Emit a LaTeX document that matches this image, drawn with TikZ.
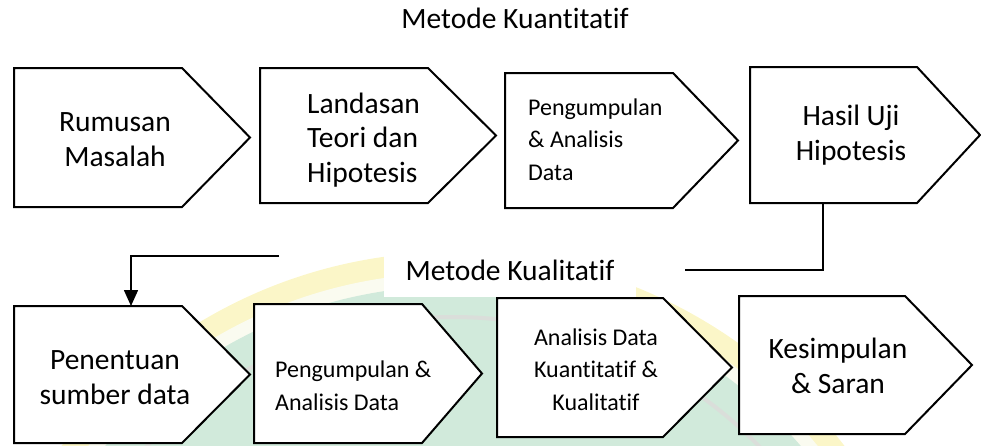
\documentclass[tikz,border=0pt]{standalone}
\usepackage{fontspec}
\setmainfont[Ligatures={NoCommon}]{Carlito}
\usetikzlibrary{arrows.meta,calc}

\definecolor{wmgreen}{RGB}{209,234,219}
\definecolor{wmyellow}{RGB}{251,246,200}
\definecolor{wmpale}{RGB}{250,251,240}
\definecolor{wmgray}{RGB}{218,222,218}

\tikzset{
  boxline/.style={draw=black,line width=2pt,line join=miter,fill=white},
  link/.style={draw=black,line width=1.6pt},
  bigtxt/.style={font=\fontsize{29.5}{34.5}\selectfont,inner sep=0pt},
  smalltxt/.style={font=\fontsize{24}{32.5}\selectfont,inner sep=0pt},
}

% pentagon-shaped step box: name, left, top, right edge of the body, tip, bottom
\newcommand\stepshape[6]{%
  \draw[boxline] (#2,#3) -- (#4,#3) -- (#5,{(#3+#6)/2}) -- (#4,#6) -- (#2,#6) -- cycle;
  \coordinate (#1-nw) at (#2,#3);
  \coordinate (#1-sw) at (#2,#6);
}

\begin{document}
\begin{tikzpicture}[x=1pt,y=-1pt]
\useasboundingbox (0,0) rectangle (981,445);

% faint round emblem in the background
\begin{scope}
  \clip (0,0) rectangle (981,445);
  \coordinate (emblem) at (453,744);
  \fill[wmyellow] (emblem) circle[radius=492];
  \fill[wmpale] (emblem) circle[radius=471];
  \fill[wmgreen] (emblem) circle[radius=458];
  \draw[wmgray,line width=4pt] (emblem) circle[radius=427];
\end{scope}

% headings
\node[bigtxt,anchor=base] (title-kuan) at (515,28) {Metode Kuantitatif};
\node[bigtxt,anchor=base,fill=white,text height=30pt,text depth=17pt,inner xsep=22pt]
  (title-kual) at (510,280) {Metode Kualitatif};

% upper row
\stepshape{rumusan}{14}{68}{182}{250}{207}
\stepshape{landasan}{260}{68}{428}{496}{203}
\stepshape{kumpulA}{505}{73}{673}{738}{208}
\stepshape{hasil}{750}{67}{917}{980}{203}

% lower row
\stepshape{penentuan}{14}{306}{182}{250}{443}
\stepshape{kumpulB}{254}{304}{422}{482}{443}
\stepshape{analisis}{497}{298}{663}{732}{437}
\stepshape{simpulan}{739}{296}{905}{972}{434}

% box texts (base anchor sits on the last line)
\node[bigtxt,align=center,anchor=base] (t-rumusan) at (115,166) {Rumusan\\Masalah};
\node[bigtxt,align=left,anchor=base west] (t-landasan) at (307,182) {Landasan\\Teori dan\\Hipotesis};
\node[smalltxt,align=left,anchor=base west] (t-kumpulA) at (528,180) {Pengumpulan\\\& Analisis\\Data};
\node[bigtxt,align=center,anchor=base] (t-hasil) at (851,160) {Hasil Uji\\Hipotesis};
\node[bigtxt,align=center,anchor=base] (t-penentuan) at (115,404) {Penentuan\\sumber data};
\node[smalltxt,align=left,anchor=base west] (t-kumpulB) at (275,410) {Pengumpulan \&\\Analisis Data};
\node[smalltxt,align=center,anchor=base] (t-analisis) at (596,410) {Analisis Data\\Kuantitatif \&\\Kualitatif};
\node[bigtxt,align=center,anchor=base] (t-simpulan) at (838,393) {Kesimpulan\\\& Saran};

% link from the upper row down to the lower row
\coordinate (hasil-exit) at ($(hasil-sw)+(73,0)$);
\coordinate (gap-right) at (685,270);
\coordinate (gap-left) at (279,256);
\coordinate (penentuan-in) at ($(penentuan-nw)+(117,0)$);
\draw[link] (hasil-exit) |- (gap-right);
\draw[link,-{Triangle[width=14pt,length=16pt]}] (gap-left) -| (penentuan-in);
\end{tikzpicture}
\end{document}
